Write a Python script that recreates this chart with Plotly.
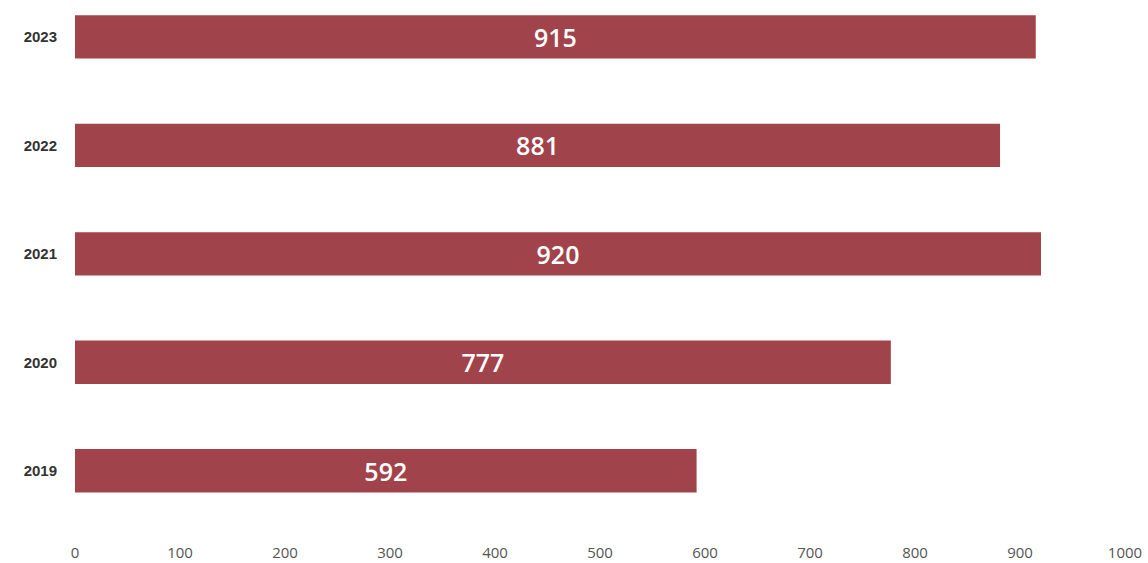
import plotly.graph_objects as go

years = ["2019", "2020", "2021", "2022", "2023"]
values = [592, 777, 920, 881, 915]
x_ticks = [0, 100, 200, 300, 400, 500, 600, 700, 800, 900, 1000]

fig = go.Figure(go.Bar(
    y=years,
    x=values,
    orientation="h",
    marker=dict(color="#A1434A", line=dict(width=0)),
    text=[str(v) for v in values],
    textposition="inside",
    insidetextanchor="middle",
    textfont=dict(color="white", size=25, family="Open Sans", weight=600),
    cliponaxis=False,
))

fig.update_layout(
    width=1148, height=563,
    margin=dict(l=75, r=23, t=0, b=38, autoexpand=False),
    paper_bgcolor="white", plot_bgcolor="white",
    bargap=0.6,
    showlegend=False,
    xaxis=dict(
        range=[0, 1000],
        tickvals=x_ticks,
        automargin=False,
        showgrid=False, zeroline=False, showline=False,
        ticks="outside", ticklen=14, tickcolor="rgba(0,0,0,0)",
        tickfont=dict(size=15, color="#555555", family="Open Sans"),
    ),
    yaxis=dict(
        type="category",
        range=[-0.5, 4.34],
        automargin=False,
        showgrid=False, zeroline=False, showline=False,
        ticks="outside", ticklen=14, tickcolor="rgba(0,0,0,0)",
        tickfont=dict(size=15, color="#333333", family="Liberation Sans", weight="bold"),
    ),
)

fig.write_html(
    "out.html",
    config={"displayModeBar": False},
    post_script="document.body.style.margin='0';document.body.style.overflow='hidden';",
)
